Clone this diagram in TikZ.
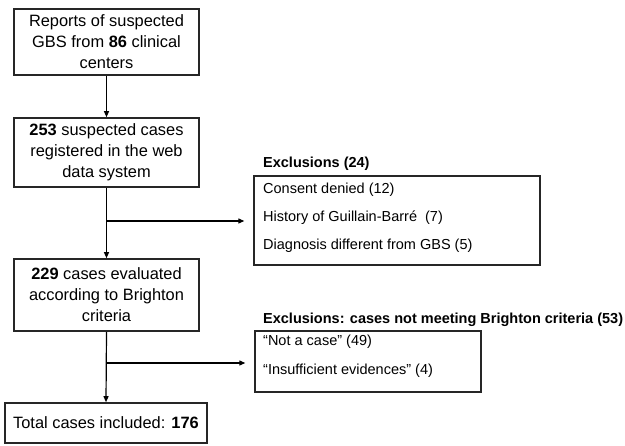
\documentclass[tikz,border=0pt]{standalone}
\usepackage{fontspec}
\setmainfont{Liberation Sans}
\usetikzlibrary{arrows.meta}
\begin{document}
\begin{tikzpicture}[x=1pt,y=-1pt,
  box/.style={draw=black!85, line width=1.6pt, rectangle, inner sep=0pt, align=center, font=\fontsize{16.4}{21}\selectfont},
  exbox/.style={draw=black!85, line width=1.4pt, rectangle, inner sep=0pt},
  extext/.style={anchor=west, inner sep=0pt, font=\fontsize{14.5}{17}\selectfont},
  extitle/.style={anchor=west, inner sep=0pt, font=\fontsize{14.5}{17}\selectfont\bfseries},
  conn/.style={line width=1.2pt, -{Triangle[length=6pt,width=5pt]}},
]
\useasboundingbox (0,0) rectangle (625,446);
% main column
\node[box, minimum width=185pt, minimum height=66pt] (r) at (106.5,42) {Reports of suspected\\GBS from \textbf{86} clinical\\centers};
\node[box, minimum width=185pt, minimum height=69pt] (s) at (106.5,152.5) {\textbf{253} suspected cases\\registered in the web\\data system};
\node[box, minimum width=185pt, minimum height=72pt] (e) at (106.5,295) {\textbf{229} cases evaluated\\according to Brighton\\criteria};
\node[box, minimum width=202pt, minimum height=40pt] (t) at (106,423) {Total cases included: \textbf{176}};
% exclusion boxes
\node[exbox, minimum width=286pt, minimum height=89pt] (x1) at (397,220.5) {};
\node[exbox, minimum width=226pt, minimum height=61pt] (x2) at (368,361.5) {};
\node[extitle] (x1t) at (263,164) {Exclusions (24)};
\node[extext] (x1a) at (263,190) {Consent denied (12)};
\node[extext] (x1b) at (263,218) {History of Guillain-Barré\ \ (7)};
\node[extext] (x1c) at (263,246) {Diagnosis different from GBS (5)};
\node[extitle] (x2t) at (263,320) {Exclusions: cases not meeting Brighton criteria (53)};
\node[extext] (x2a) at (263,342) {“Not a case” (49)};
\node[extext] (x2b) at (263,371) {“Insufficient evidences” (4)};
% branch points
\coordinate (b1) at (s.south |- 0,221);
\coordinate (b2) at (e.south |- 0,363);
% connectors
\draw[conn] (r.south) -- (s.north);
\draw[conn] (s.south) -- (e.north);
\draw[conn] (e.south) -- (t.north);
\draw[conn, shorten >=9pt] (b1) -- (b1 -| x1.west);
\draw[conn, shorten >=9pt] (b2) -- (b2 -| x2.west);
\end{tikzpicture}
\end{document}
